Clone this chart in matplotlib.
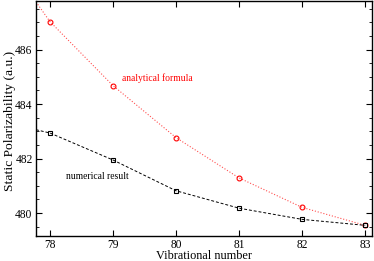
import matplotlib
matplotlib.use('Agg')
import matplotlib.pyplot as plt
from matplotlib.ticker import MultipleLocator

plt.rcParams['font.family'] = ['Liberation Serif', 'DejaVu Serif']

# vibrational numbers and static polarizabilities (a.u.)
levels = [78, 79, 80, 81, 82, 83]
analytical = [487.03, 484.68, 482.77, 481.29, 480.21, 479.55]
numerical = [482.94, 481.95, 480.82, 480.18, 479.77, 479.55]

# where the curves meet the left edge of the frame
edge_x = 77.78
analytical_edge = 487.75
numerical_edge = 483.06

fig = plt.figure(figsize=(3.74, 2.61), dpi=100)
ax = fig.add_axes([0.0963, 0.0958, 0.8987, 0.9])

ax.plot([edge_x] + levels, [analytical_edge] + analytical, color='#ff5050',
        linestyle=':', linewidth=0.8)
ax.plot(levels, analytical, linestyle='none', marker='o', markersize=3.5,
        markerfacecolor='none', markeredgecolor='red', markeredgewidth=0.8)
ax.plot([edge_x] + levels, [numerical_edge] + numerical, color='black',
        linestyle=(0, (3, 2)), linewidth=0.7)
ax.plot(levels, numerical, linestyle='none', marker='s', markersize=3,
        markerfacecolor='none', markeredgecolor='black', markeredgewidth=0.8)

ax.text(79.15, 484.95, 'analytical formula', color='red', fontsize=6.9,
        va='center')
ax.text(78.25, 481.35, 'numerical result', color='black', fontsize=6.9,
        va='center')

ax.set_xlim(edge_x, 83.11)
ax.set_ylim(479.16, 487.78)
ax.set_xticks(levels)
ax.yaxis.set_major_locator(MultipleLocator(2))
ax.yaxis.set_minor_locator(MultipleLocator(0.5))
ax.tick_params(which='both', direction='in', top=True, right=True,
               labelsize=8.3, pad=2.5)
ax.tick_params(which='major', length=4)
ax.tick_params(which='minor', length=2)
ax.set_xlabel('Vibrational number', fontsize=8.8)
ax.set_ylabel('Static Polarizability (a.u.)', fontsize=9.7)
ax.xaxis.set_label_coords(0.5, -0.06)
ax.yaxis.set_label_coords(-0.06, 0.49)
for s in ax.spines.values():
    s.set_linewidth(1.0)

fig.savefig('out.png', dpi=100)
